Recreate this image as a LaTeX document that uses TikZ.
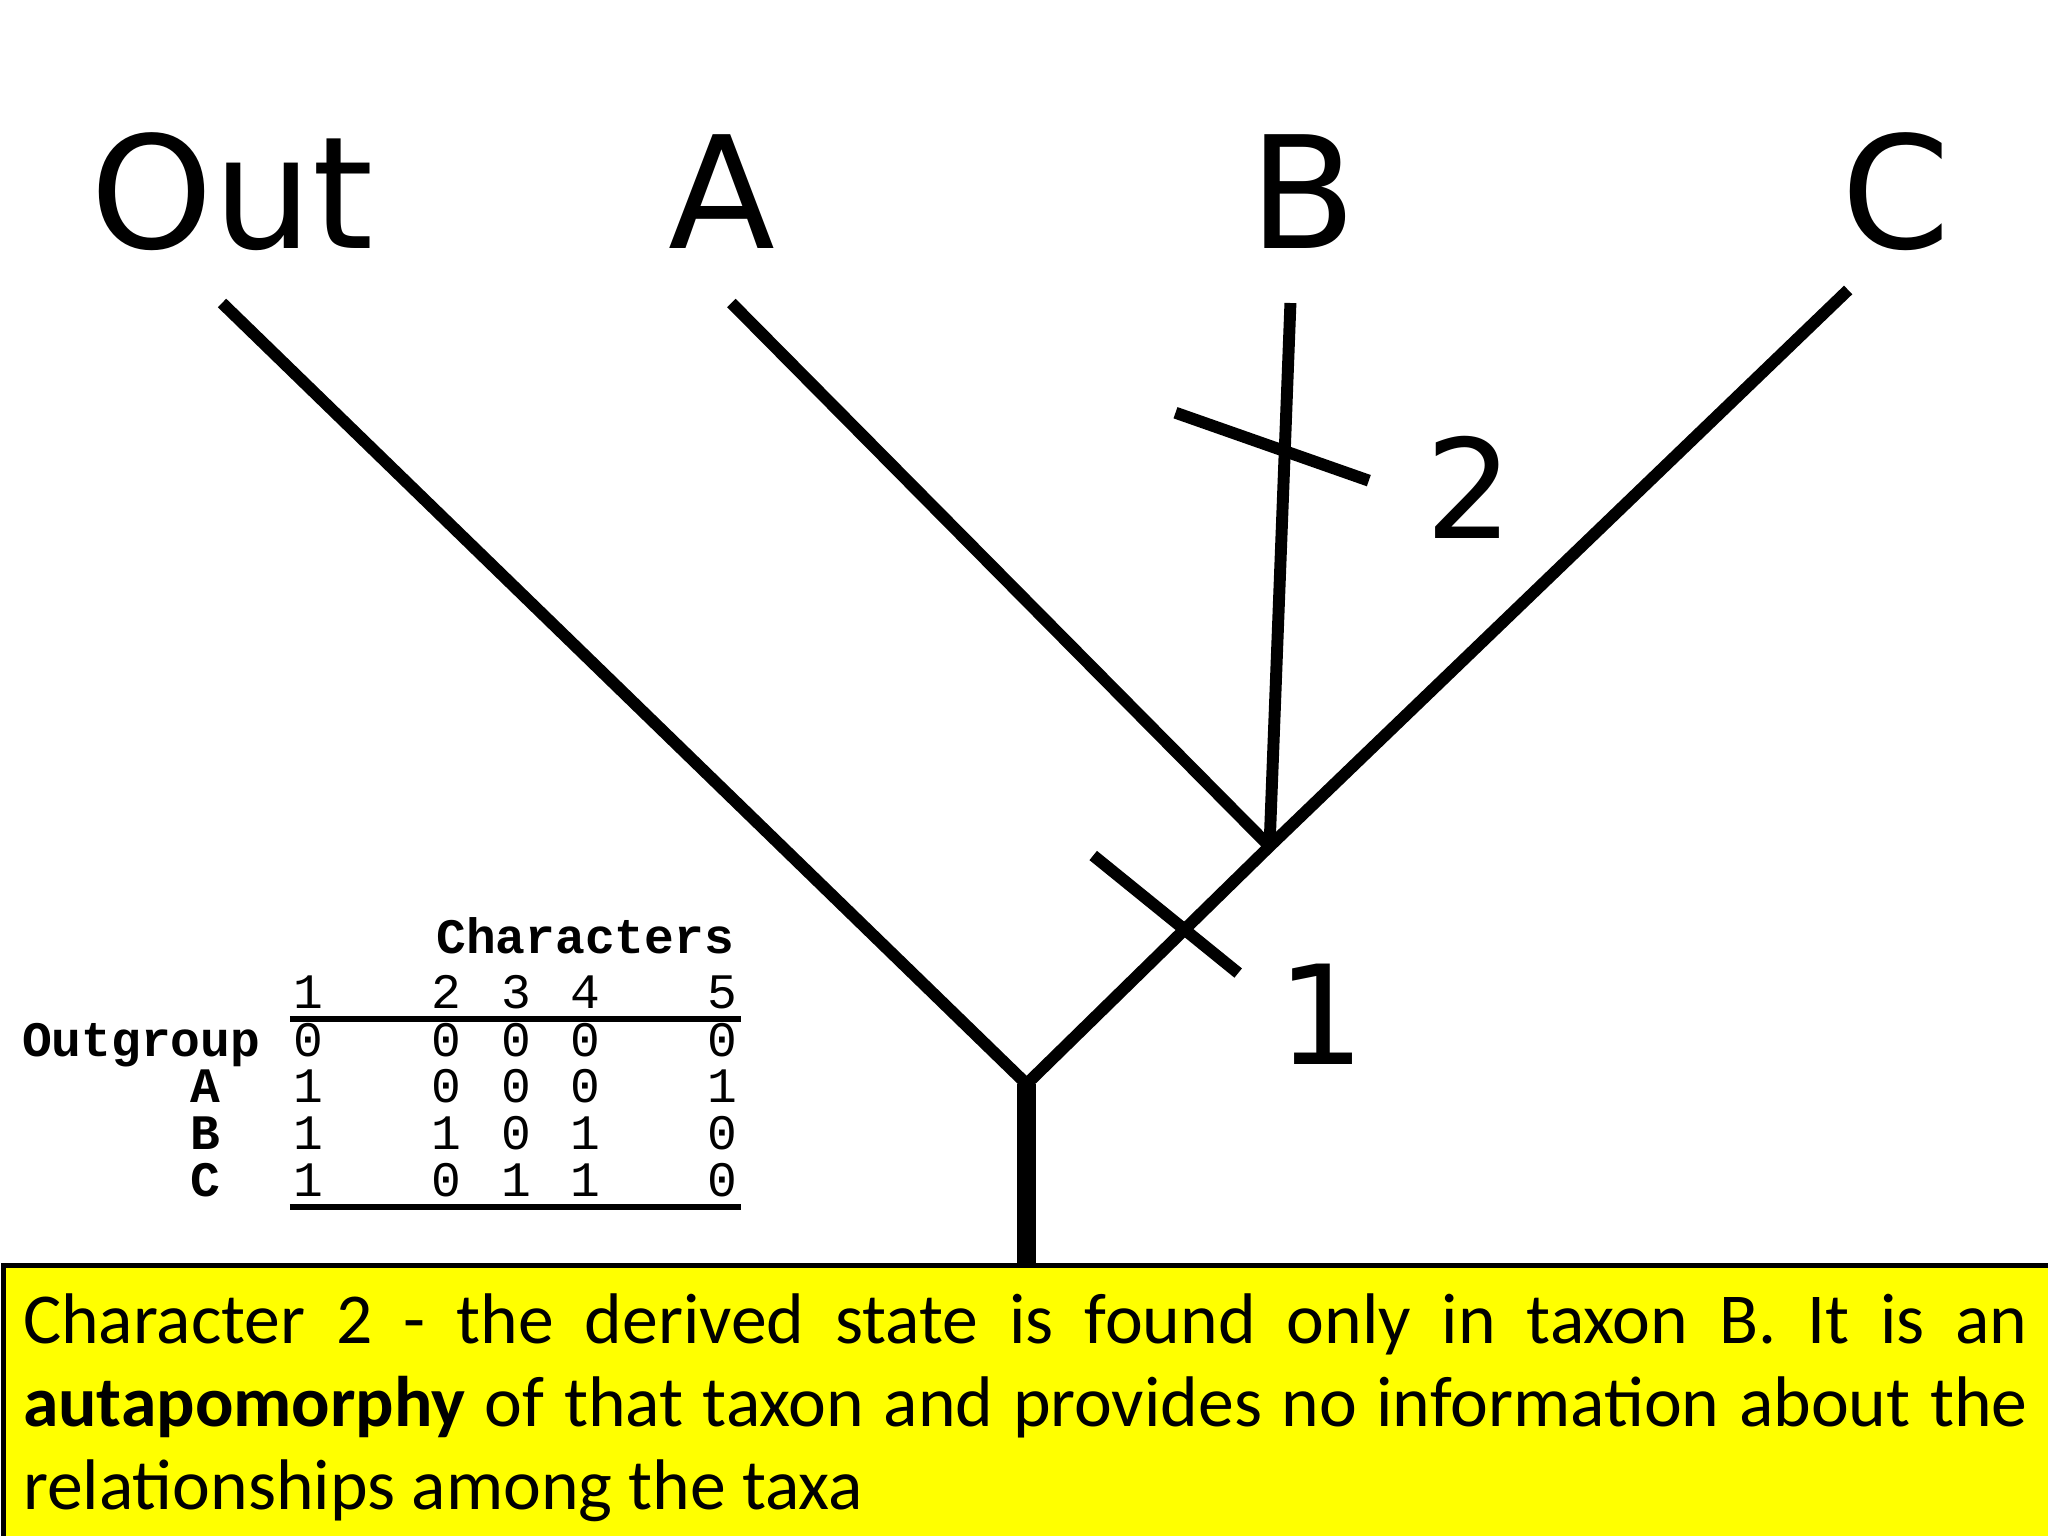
\documentclass[tikz,border=0pt]{standalone}
\usepackage{fontspec}
\setmainfont{DejaVu Sans}
\newfontfamily\capfont{Carlito}
\newfontfamily\tabfont{Liberation Mono}
\begin{document}
\begin{tikzpicture}[x=0.01cm,y=-0.01cm,
  br/.style={line width=2.6pt},
  taxon/.style={font=\fontsize{34}{40}\selectfont, anchor=base},
  mk/.style={font=\fontsize{30}{34}\selectfont, anchor=base},
  tb/.style={font=\tabfont\fontsize{10.8}{12}\selectfont, anchor=base, inner sep=0pt}]
\useasboundingbox (0,0) rectangle (1568,1176);
\fill[white] (0,0) rectangle (1568,1176);
% tree
\coordinate (root) at (786,830);
\coordinate (bot) at (786,967);
\coordinate (j) at (972,648);
\coordinate (tOut) at (170,232);
\coordinate (tA) at (560,232);
\coordinate (tB) at (988,232);
\coordinate (tC) at (1415,222);
\draw[line width=4pt] (bot) -- (root);
\draw[br] (root) -- (tOut);
\draw[br] (root) -- (j) -- (tC);
\draw[br] (j) -- (tA);
\draw[br] (j) -- (tB);
\coordinate (m1a) at (837,655); \coordinate (m1b) at (948,745);
\coordinate (m2a) at (900,316); \coordinate (m2b) at (1048,368);
\draw[br] (m1a) -- (m1b);
\draw[br] (m2a) -- (m2b);
\node[mk] (l1) at (1012,815) {1};
\node[mk] (l2) at (1125,412) {2};
\node[taxon] (nOut) at (178,190) {Out};
\node[taxon] (nA) at (553,190) {A};
\node[taxon] (nB) at (998,190) {B};
\node[taxon] (nC) at (1452,190) {C};
% table
\node[tb] (hd) at (448,730) {\textbf{Characters}};
\foreach \x/\t [count=\i] in {236/1,342/2,395/3,448/4,553/5}
  \node[tb] (h\i) at (\x,772) {\t};
\draw[line width=1.2pt] (222,780) -- (567,780);
\draw[line width=1.2pt] (222,924) -- (567,924);
\node[tb,anchor=base east] (rO) at (200,809) {\textbf{Outgroup}};
\node[tb] (rA) at (157,844) {\textbf{A}};
\node[tb] (rB) at (157,880) {\textbf{B}};
\node[tb] (rC) at (157,916) {\textbf{C}};
\foreach \y/\a/\b/\c/\d/\e in {809/0/0/0/0/0, 844/1/0/0/0/1, 880/1/1/0/1/0, 916/1/0/1/1/0}{
  \node[tb] at (236,\y) {\a};
  \node[tb] at (342,\y) {\b};
  \node[tb] at (395,\y) {\c};
  \node[tb] at (448,\y) {\d};
  \node[tb] at (553,\y) {\e};
}
% caption
\definecolor{capyellow}{RGB}{255,255,0}
\node[draw=black, line width=1pt, fill=capyellow, minimum width=1566, minimum height=208,
  inner sep=0pt, anchor=north west] (box) at (1,967) {};
\node[anchor=north west, inner sep=0pt, text width=15.34cm, align=justify,
  font=\capfont\fontsize{15.6}{18}\selectfont] (cap) at (17,990)
 {Character 2 - the derived state is found only in taxon B. It is an\linebreak
  \textbf{autapomorphy} of that taxon and provides no information about the\linebreak
  relationships among the taxa};
\end{tikzpicture}
\end{document}
